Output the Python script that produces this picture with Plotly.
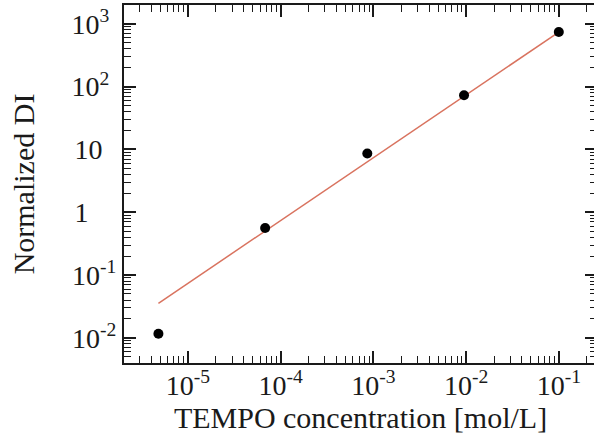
import plotly.graph_objects as go

# Measured data
conc = [4.8e-6, 6.8e-5, 8.6e-4, 0.0095, 0.1]
norm_di = [0.0116, 0.56, 8.6, 73, 740]

# Fitted line (endpoints)
fit_x = [4.8e-6, 0.1]
fit_y = [0.0355, 740]

NB = "\u00a0"
x_tickvals = [1e-5, 1e-4, 1e-3, 1e-2, 1e-1]
x_ticktext = ["10<sup>-5</sup>", "10<sup>-4</sup>", "10<sup>-3</sup>", "10<sup>-2</sup>", "10<sup>-1</sup>"]
y_tickvals = [1e-2, 1e-1, 1, 10, 100, 1000]
y_ticktext = ["10<sup>-2</sup>", "10<sup>-1</sup>", "1" + NB * 4, "10" + NB * 2,
              "10<sup>2</sup>" + NB, "10<sup>3</sup>" + NB]

x_minor = [m * 10.0 ** e for e in range(-6, 0) for m in range(2, 10)]
y_minor = [m * 10.0 ** e for e in range(-3, 4) for m in range(2, 10)]

SERIF = "Liberation Serif"
INK = "#1a1a1a"

fig = go.Figure()
fig.add_trace(go.Scatter(x=fit_x, y=fit_y, mode="lines",
                         line=dict(color="#d9735f", width=1.5), showlegend=False))
fig.add_trace(go.Scatter(x=conc, y=norm_di, mode="markers",
                         marker=dict(color="black", size=10), showlegend=False))

axis_common = dict(
    type="log", showgrid=False, zeroline=False, automargin=False,
    showline=True, linecolor=INK, linewidth=2, mirror="ticks",
    ticks="inside", ticklen=12, tickwidth=1.5, tickcolor=INK,
    tickmode="array",
    tickfont=dict(family=SERIF, size=28, color=INK),
)

fig.update_xaxes(
    **axis_common,
    range=[-5.69, -0.588],
    tickvals=x_tickvals, ticktext=x_ticktext,
    ticklabelstandoff=-4,
    minor=dict(tickmode="array", tickvals=x_minor, ticks="inside", ticklen=7,
               tickwidth=1.2, tickcolor=INK, showgrid=False),
    title=dict(text="TEMPO concentration [mol/L]",
               font=dict(family=SERIF, size=30, color=INK), standoff=2),
)
fig.update_yaxes(
    **axis_common,
    range=[-2.40, 3.30],
    tickvals=y_tickvals, ticktext=y_ticktext,
    minor=dict(tickmode="array", tickvals=y_minor, ticks="inside", ticklen=7,
               tickwidth=1.2, tickcolor=INK, showgrid=False),
    title=dict(text="Normalized DI",
               font=dict(family=SERIF, size=30, color=INK), standoff=28),
)

fig.update_layout(
    width=597, height=439,
    margin=dict(l=124, r=0, t=5, b=76),
    plot_bgcolor="white", paper_bgcolor="white",
)

fig.write_html("out.html",
               config={"displayModeBar": False},
               post_script="document.body.style.margin='0';document.body.style.overflow='hidden';")
